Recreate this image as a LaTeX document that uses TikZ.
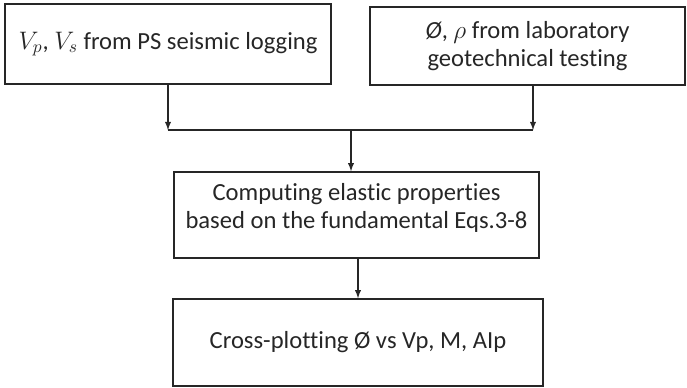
\documentclass[tikz,border=0pt]{standalone}
\usepackage{amssymb}
\usepackage{fontspec}
\setmainfont{Carlito}[Ligatures=NoCommon]
\usepackage{tikz}
\usetikzlibrary{positioning}

\tikzset{
  stepbox/.style={draw=black!85, line width=0.9pt, inner sep=0pt, align=center,
    font=\fontsize{14}{16}\selectfont, text=black!85},
  flow/.style={->, >=latex, line width=0.6pt, draw=black!85}
}

\begin{document}
\begin{tikzpicture}[x=0.02cm, y=-0.02cm]
          \useasboundingbox (0,0) rectangle (687,387);
          \node[stepbox, minimum width=6.52cm, minimum height=1.60cm] (LT) at (168, 44) {$V_p$, $V_s$ from PS seismic logging};
          \node[stepbox, minimum width=6.30cm, minimum height=1.56cm] (RT) at (527.5, 46) {\textit{Ø}, $\rho$ from laboratory\\geotechnical testing};
          \node[stepbox, minimum width=7.30cm, minimum height=1.72cm] (MB) at (356.5, 215) {Computing elastic properties\\based on the fundamental Eqs.3-8\\[-6pt]\mbox{}};
          \node[stepbox, minimum width=7.40cm, minimum height=1.74cm] (LB) at (358, 342.5) {Cross-plotting Ø vs Vp, M, AIp};
          \coordinate (JL) at (168, 130);
          \coordinate (JR) at (533, 130);
          \coordinate (JM) at (351, 130);
          \coordinate (RS) at (533, 85);
          \draw [flow] (LT) -- (JL);
          \draw [flow] (RS) -- (JR);
          \draw [line width=0.6pt, draw=black!85] (JL) -- (JR);
          \draw [flow] (JM) -- (JM |- MB.north);
          \draw [flow] (MB.south -| LB.north) -- (LB.north);
  \end{tikzpicture}
\end{document}
